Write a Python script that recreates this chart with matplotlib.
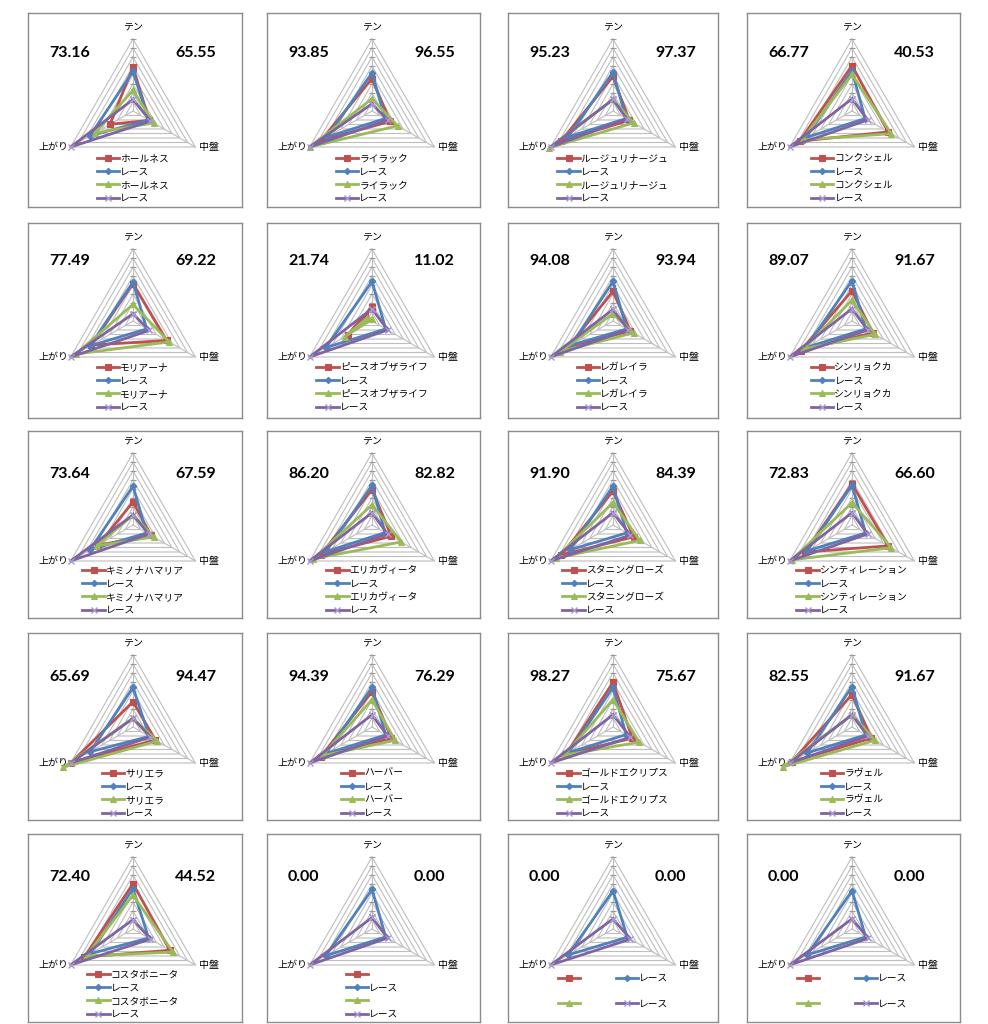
import numpy as np
import matplotlib
matplotlib.use('Agg')
import matplotlib.pyplot as plt

plt.rcParams['font.family'] = ['Noto Sans CJK JP', 'DejaVu Sans']

# axis labels (top, lower right, lower left)
axis_labels = ['テン', '中盤', '上がり']

horse_names = ['ホールネス', 'ライラック', 'ルージュリナージュ', 'コンクシェル',
               'モリアーナ', 'ピースオブザライフ', 'レガレイラ', 'シンリョクカ',
               'キミノナハマリア', 'エリカヴィータ', 'スタニングローズ', 'シンティレーション',
               'サリエラ', 'ハーバー', 'ゴールドエクリプス', 'ラヴェル',
               'コスタボニータ', '', '', '']

left_nums = ['73.16', '93.85', '95.23', '66.77', '77.49', '21.74', '94.08', '89.07',
             '73.64', '86.20', '91.90', '72.83', '65.69', '94.39', '98.27', '82.55',
             '72.40', '0.00', '0.00', '0.00']
right_nums = ['65.55', '96.55', '97.37', '40.53', '69.22', '11.02', '93.94', '91.67',
              '67.59', '82.82', '84.39', '66.60', '94.47', '76.29', '75.67', '91.67',
              '44.52', '0.00', '0.00', '0.00']

nan = np.nan
# [テン, 中盤, 上がり] as fraction of the outer ring
horse_a = [
    [0.61, 0.26, 0.37], [0.45, 0.29, 0.82], [0.48, 0.26, 0.83], [0.63, 0.58, 0.84],
    [0.52, 0.54, 0.67], [0.20, -0.11, 0.39], [0.41, 0.28, 0.72], [0.42, 0.33, 0.82],
    [0.32, 0.29, 0.56], [0.49, 0.31, 0.82], [0.47, 0.33, 0.83], [0.57, 0.58, 0.75],
    [0.35, 0.36, 1.00], [0.49, 0.31, 0.82], [0.62, 0.31, 0.75], [0.45, 0.31, 0.97],
    [0.63, 0.59, 0.78], [nan, nan, nan], [nan, nan, nan], [nan, nan, nan],
]
race_a = [
    [0.55, 0.25, 0.69], [0.53, 0.21, 0.72], [0.54, 0.21, 0.72], [0.56, 0.21, 0.74],
    [0.54, 0.22, 0.69], [0.55, 0.22, 0.74], [0.55, 0.22, 0.67], [0.56, 0.22, 0.74],
    [0.54, 0.22, 0.69], [0.55, 0.21, 0.74], [0.54, 0.22, 0.69], [0.55, 0.22, 0.72],
    [0.55, 0.26, 0.69], [0.55, 0.22, 0.74], [0.55, 0.21, 0.71], [0.56, 0.22, 0.72],
    [0.56, 0.25, 0.69], [0.55, 0.22, 0.74], [0.53, 0.23, 0.72], [0.53, 0.22, 0.72],
]
horse_b = [
    [0.29, 0.33, 0.61], [0.17, 0.41, 1.00], [0.16, 0.33, 1.02], [0.51, 0.63, 0.80],
    [0.23, 0.58, 0.92], [0.03, -0.08, 0.44], [0.10, 0.33, 0.85], [0.29, 0.37, 0.78],
    [0.14, 0.33, 0.58], [0.28, 0.47, 0.94], [0.31, 0.43, 0.92], [0.31, 0.63, 0.97],
    [0.12, 0.39, 1.12], [0.38, 0.37, 0.80], [0.38, 0.42, 0.78], [0.17, 0.37, 1.11],
    [0.47, 0.64, 0.75], [nan, nan, nan], [nan, nan, nan], [nan, nan, nan],
]
race_b = [
    [0.16, 0.28, 1.0], [0.10, 0.25, 1.0], [0.16, 0.22, 1.0], [0.17, 0.25, 1.0],
    [0.10, 0.26, 1.0], [0.17, 0.25, 1.0], [0.16, 0.24, 1.0], [0.17, 0.25, 1.0],
    [0.14, 0.25, 1.0], [0.17, 0.25, 1.0], [0.17, 0.28, 1.0], [0.17, 0.25, 1.0],
    [0.12, 0.28, 1.0], [0.17, 0.25, 1.0], [0.17, 0.28, 1.0], [0.17, 0.25, 1.0],
    [0.13, 0.28, 1.0], [0.16, 0.25, 1.0], [0.14, 0.28, 1.0], [0.14, 0.26, 1.0],
]

legend_cols = [1] * 18 + [2, 2]

# panel boxes in pixels
col_left = [28, 267, 508, 747]
col_w = [214, 213, 210, 213]
row_top = [13, 223, 431, 633, 834]
row_h = [194, 195, 187, 187, 188]
row_cy = [98, 98, 94, 94, 95]
row_num_y = [40, 38, 43, 44, 43]
row_leg_y = [140, 139, 134, 135, 135]

W, H = 988, 1024
R = 72.0
CX = 105
n_rings = 8
angles = np.deg2rad([90, -30, 210])

series_style = [
    dict(color='#C0504D', marker='s', ms=4.2, mec='#C0504D', mfc='#C0504D', mew=0.8),
    dict(color='#4F81BD', marker='D', ms=3.2, mec='#4F81BD', mfc='#4F81BD', mew=0.8),
    dict(color='#9BBB59', marker='^', ms=5, mec='#9BBB59', mfc='#9BBB59', mew=0.8),
    dict(color='#8064A2', marker='x', ms=5, mec='#A898CF', mfc='none', mew=1.0),
]

fig = plt.figure(figsize=(W / 100, H / 100), dpi=100)


def closed(v):
    v = np.asarray(v, dtype=float)
    xs = v * np.cos(angles)
    ys = v * np.sin(angles)
    return np.append(xs, xs[0]), np.append(ys, ys[0])


for i in range(20):
    r, c = divmod(i, 4)
    bl, bt, bw, bh = col_left[c], row_top[r], col_w[c], row_h[r]
    cy = row_cy[r]
    ax = fig.add_axes([bl / W, 1 - (bt + bh) / H, bw / W, bh / H])
    ax.set_xlim(-CX / R, (bw - CX) / R)
    ax.set_ylim(-(bh - cy) / R, cy / R)
    ax.set_xticks([])
    ax.set_yticks([])
    for sp in ax.spines.values():
        sp.set_color('#8C8C8C')
        sp.set_linewidth(1.0)

    # triangular grid
    for k in range(1, n_rings + 1):
        gx, gy = closed([k / n_rings] * 3)
        ax.plot(gx, gy, color='#BEBEBE', lw=0.8, zorder=1)
    for a in angles:
        ax.plot([0, np.cos(a)], [0, np.sin(a)], color='#BEBEBE', lw=0.8, zorder=1)
    tick_r = np.arange(1, n_rings + 1) / n_rings
    ax.plot(np.zeros(n_rings), tick_r, ls='none', marker='_', ms=4,
            color='#9A9A9A', mew=0.8, zorder=1)

    # axis labels
    ax.text(0, 1.17, axis_labels[0], ha='center', va='center', fontsize=7.2)
    ax.text(0.92, -0.5, axis_labels[1], ha='left', va='center', fontsize=7.2)
    ax.text(-0.89, -0.5, axis_labels[2], ha='right', va='center', fontsize=7.2)

    # series
    handles = []
    for data, st in zip([horse_a[i], race_a[i], horse_b[i], race_b[i]], series_style):
        sx, sy = closed(data)
        ln, = ax.plot(sx, sy, lw=2.0, zorder=3, color=st['color'], marker=st['marker'],
                      ms=st['ms'], mec=st['mec'], mfc=st['mfc'], mew=st['mew'])
        handles.append(ln)

    # big numbers
    ax.annotate(left_nums[i], xy=(0, 1), xycoords='axes fraction',
                xytext=(21, -row_num_y[r]), textcoords='offset pixels',
                ha='left', va='center', fontsize=11.5, fontweight='bold',
                family=['Lato', 'DejaVu Sans'])
    ax.annotate(right_nums[i], xy=(0, 1), xycoords='axes fraction',
                xytext=(147, -row_num_y[r]), textcoords='offset pixels',
                ha='left', va='center', fontsize=11.5, fontweight='bold',
                family=['Lato', 'DejaVu Sans'])

    labels = [horse_names[i], 'レース', horse_names[i], 'レース']
    cx_frac = CX / bw
    if legend_cols[i] == 1:
        ax.legend(handles, labels, loc='upper center',
                  bbox_to_anchor=(cx_frac, 1 - row_leg_y[r] / bh), frameon=False,
                  fontsize=7, handlelength=2.3, handletextpad=0.1,
                  labelspacing=0.35, borderpad=0, borderaxespad=0)
    else:
        order = [0, 2, 1, 3]
        ax.legend([handles[j] for j in order], [labels[j] for j in order],
                  ncol=2, loc='upper center',
                  bbox_to_anchor=(cx_frac, 1 - (row_leg_y[r] + 4) / bh), frameon=False,
                  fontsize=7, handlelength=2.3, handletextpad=0.1,
                  labelspacing=1.6, columnspacing=3.6, borderpad=0,
                  borderaxespad=0)

fig.savefig('out.png', dpi=100, facecolor='white')
